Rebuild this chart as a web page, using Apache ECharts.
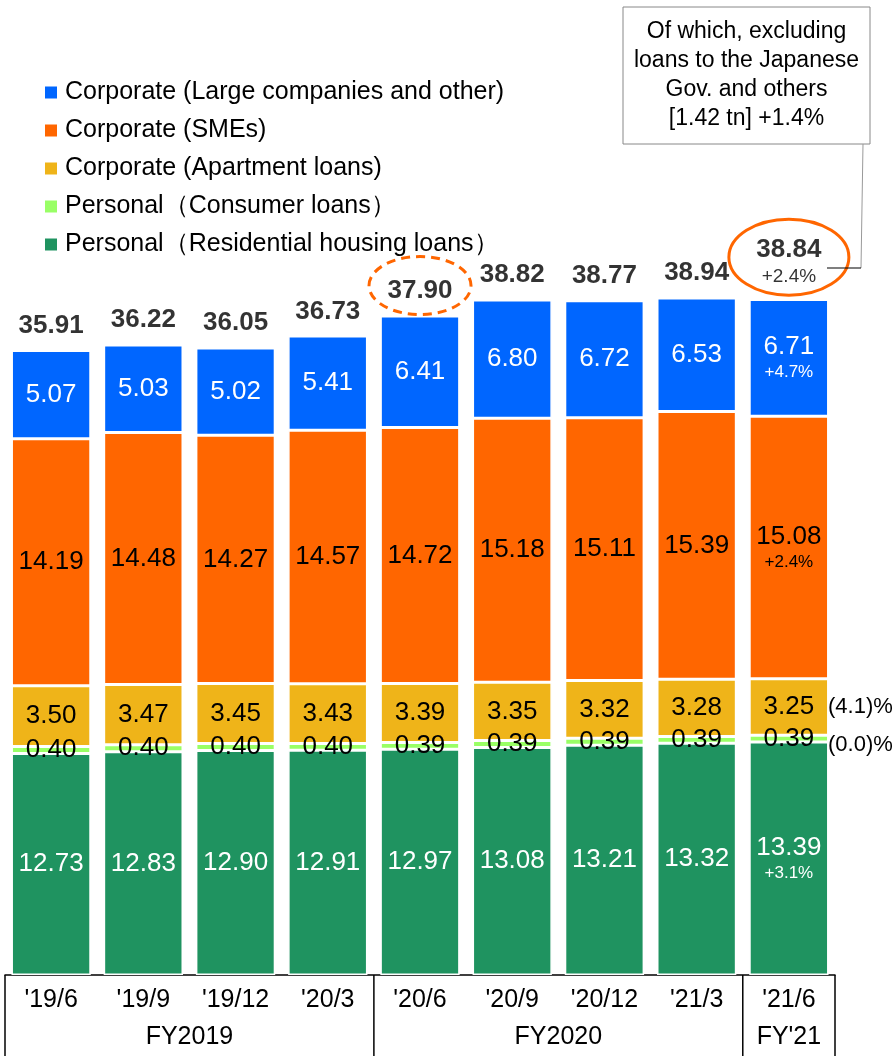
<!DOCTYPE html>
<html>
<head>
<meta charset="utf-8">
<script src="https://cdn.jsdelivr.net/npm/echarts@6/dist/echarts.min.js"></script>
<style>
  html, body { margin: 0; padding: 0; background: #fff; }
  #loanChart { width: 895px; height: 1056px; }
</style>
</head>
<body>
<div id="loanChart"></div>
<script>
  // values in trillion yen, bottom to top of the stack
  const categories = ["'19/6", "'19/9", "'19/12", "'20/3", "'20/6", "'20/9", "'20/12", "'21/3", "'21/6"];
  const housing = [12.73, 12.83, 12.90, 12.91, 12.97, 13.08, 13.21, 13.32, 13.39];
  const consumer = [0.40, 0.40, 0.40, 0.40, 0.39, 0.39, 0.39, 0.39, 0.39];
  const apartment = [3.50, 3.47, 3.45, 3.43, 3.39, 3.35, 3.32, 3.28, 3.25];
  const sme = [14.19, 14.48, 14.27, 14.57, 14.72, 15.18, 15.11, 15.39, 15.08];
  const large = [5.07, 5.03, 5.02, 5.41, 6.41, 6.80, 6.72, 6.53, 6.71];
  const totals = [35.91, 36.22, 36.05, 36.73, 37.90, 38.82, 38.77, 38.94, 38.84];

  // yoy changes shown on the last bar
  const lastChange = { housing: '+3.1%', sme: '+2.4%', large: '+4.7%', total: '+2.4%' };
  const sideLabels = { apartment: '(4.1)%', consumer: '(0.0)%' };

  const fiscalGroups = [
    { name: 'FY2019', from: 0, to: 3 },
    { name: 'FY2020', from: 4, to: 7 },
    { name: "FY'21", from: 8, to: 8 }
  ];

  const calloutLines = ['Of which, excluding', 'loans to the Japanese', 'Gov. and others', '[1.42 tn] +1.4%'];

  const names = {
    large: 'Corporate (Large companies and other)',
    sme: 'Corporate (SMEs)',
    apartment: 'Corporate (Apartment loans)',
    consumer: 'Personal（Consumer loans）',
    housing: 'Personal（Residential housing loans）'
  };
  const colors = {
    large: '#0066ff',
    sme: '#ff6600',
    apartment: '#efb419',
    consumer: '#99ff66',
    housing: '#1f9360'
  };

  const FONT = '"Liberation Sans", Arial, sans-serif';
  const last = categories.length - 1;

  function barSeries(key, data, textColor) {
    return {
      name: names[key],
      type: 'bar',
      stack: 'loans',
      barCategoryGap: '14%',
      data: data,
      itemStyle: { color: colors[key], borderColor: '#fff', borderWidth: 1.5 },
      label: {
        show: true,
        position: 'inside',
        fontFamily: FONT,
        fontSize: 26,
        color: textColor,
        formatter: function (p) {
          let txt = p.value.toFixed(2);
          if (p.dataIndex === last && lastChange[key]) {
            return '{v|' + txt + '}\n{c|' + lastChange[key] + '}';
          }
          return txt;
        },
        rich: {
          v: { fontFamily: FONT, fontSize: 26, color: textColor, lineHeight: 29 },
          c: { fontFamily: FONT, fontSize: 17, color: textColor, lineHeight: 22 }
        }
      }
    };
  }

  let loanChart = echarts.init(document.getElementById('loanChart'));

  let option = {
    animation: false,
    textStyle: { fontFamily: FONT },
    grid: { left: 5, right: 60, top: 105, bottom: 81 },
    legend: {
      orient: 'vertical',
      left: 40,
      top: 75,
      itemWidth: 12,
      itemHeight: 12,
      itemGap: 13,
      icon: 'rect',
      itemStyle: { borderWidth: 0 },
      data: [names.large, names.sme, names.apartment, names.consumer, names.housing],
      textStyle: { fontFamily: FONT, fontSize: 25, color: '#000', lineHeight: 25, padding: [0, 0, 0, 3] }
    },
    xAxis: {
      type: 'category',
      data: categories,
      axisLine: { lineStyle: { color: '#000', width: 1.5 } },
      axisTick: { show: false },
      axisLabel: { interval: 0, fontFamily: FONT, fontSize: 25, color: '#000', margin: 13 }
    },
    yAxis: {
      type: 'value',
      min: 0,
      max: 50,
      show: false
    },
    series: [
      barSeries('housing', housing, '#fff'),
      barSeries('consumer', consumer, '#000'),
      barSeries('apartment', apartment, '#000'),
      barSeries('sme', sme, '#000'),
      barSeries('large', large, '#fff'),
      {
        name: 'total',
        type: 'scatter',
        symbolSize: 1,
        itemStyle: { color: 'rgba(0,0,0,0)' },
        data: totals.map(function (v, i) {
          if (i === last) {
            return {
              value: v,
              label: {
                distance: 10,
                formatter: '{t|' + v.toFixed(2) + '}\n{c|' + lastChange.total + '}'
              }
            };
          }
          return v;
        }),
        label: {
          show: true,
          position: 'top',
          distance: 11,
          fontFamily: FONT,
          fontSize: 26,
          fontWeight: 'bold',
          color: '#000',
          formatter: function (p) { return p.value.toFixed(2); },
          rich: {
            t: { fontFamily: FONT, fontSize: 26, fontWeight: 'bold', color: '#000', lineHeight: 30 },
            c: { fontFamily: FONT, fontSize: 19, fontWeight: 'normal', color: '#000', lineHeight: 24 }
          }
        }
      }
    ]
  };
  loanChart.setOption(option);

  // annotations placed from the chart's own scales
  function px(i, v) {
    return loanChart.convertToPixel({ xAxisIndex: 0, yAxisIndex: 0 }, [i, v]);
  }
  let band = px(1, 0)[0] - px(0, 0)[0];
  let baseY = px(0, 0)[1];
  let bottomY = 1056;
  let graphics = [];

  fiscalGroups.forEach(function (g) {
    let xl = px(g.from, 0)[0] - band / 2;
    let xr = px(g.to, 0)[0] + band / 2;
    graphics.push({
      type: 'line',
      shape: { x1: xl, y1: baseY, x2: xl, y2: bottomY },
      style: { stroke: '#000', lineWidth: 1.5 }
    });
    graphics.push({
      type: 'text',
      x: (xl + xr) / 2,
      y: 1037,
      style: { text: g.name, fontFamily: FONT, fontSize: 25, fill: '#000', align: 'center', verticalAlign: 'middle' }
    });
  });
  let rightEdge = px(last, 0)[0] + band / 2;
  graphics.push({
    type: 'line',
    shape: { x1: rightEdge, y1: baseY, x2: rightEdge, y2: bottomY },
    style: { stroke: '#000', lineWidth: 1.5 }
  });

  // percentage change labels to the right of the last bar
  let aptMid = housing[last] + consumer[last] + apartment[last] / 2;
  let conMid = housing[last] + consumer[last] / 2;
  graphics.push({
    type: 'text',
    x: rightEdge - 7,
    y: px(last, aptMid)[1],
    style: { text: sideLabels.apartment, fontFamily: FONT, fontSize: 22, fill: '#000', verticalAlign: 'middle' }
  });
  graphics.push({
    type: 'text',
    x: rightEdge - 7,
    y: px(last, conMid)[1] + 6,
    style: { text: sideLabels.consumer, fontFamily: FONT, fontSize: 22, fill: '#000', verticalAlign: 'middle' }
  });

  // ellipses round two of the totals
  let e1 = px(4, totals[4]);
  graphics.push({
    type: 'ellipse',
    shape: { cx: e1[0], cy: e1[1] - 30, rx: 51, ry: 29 },
    style: { fill: 'none', stroke: '#ff6600', lineWidth: 3, lineDash: [9, 6] }
  });
  let e2 = px(last, totals[last]);
  graphics.push({
    type: 'ellipse',
    shape: { cx: e2[0], cy: e2[1] - 42, rx: 60, ry: 38 },
    style: { fill: 'none', stroke: '#ff6600', lineWidth: 3 }
  });

  // callout box
  graphics.push({
    type: 'rect',
    shape: { x: 623, y: 7, width: 247, height: 137 },
    style: { fill: '#fff', stroke: '#888', lineWidth: 1 }
  });
  calloutLines.forEach(function (t, i) {
    graphics.push({
      type: 'text',
      x: 746.5,
      y: 32 + i * 29,
      style: { text: t, fontFamily: FONT, fontSize: 23, fill: '#000', align: 'center', verticalAlign: 'middle' }
    });
  });
  graphics.push({
    type: 'line',
    shape: { x1: 863, y1: 144, x2: 861, y2: 268 },
    style: { stroke: '#999', lineWidth: 1 }
  });
  graphics.push({
    type: 'line',
    shape: { x1: 827, y1: 268, x2: 861, y2: 268 },
    style: { stroke: '#000', lineWidth: 1.2 }
  });

  loanChart.setOption({ graphic: graphics });
</script>
</body>
</html>
